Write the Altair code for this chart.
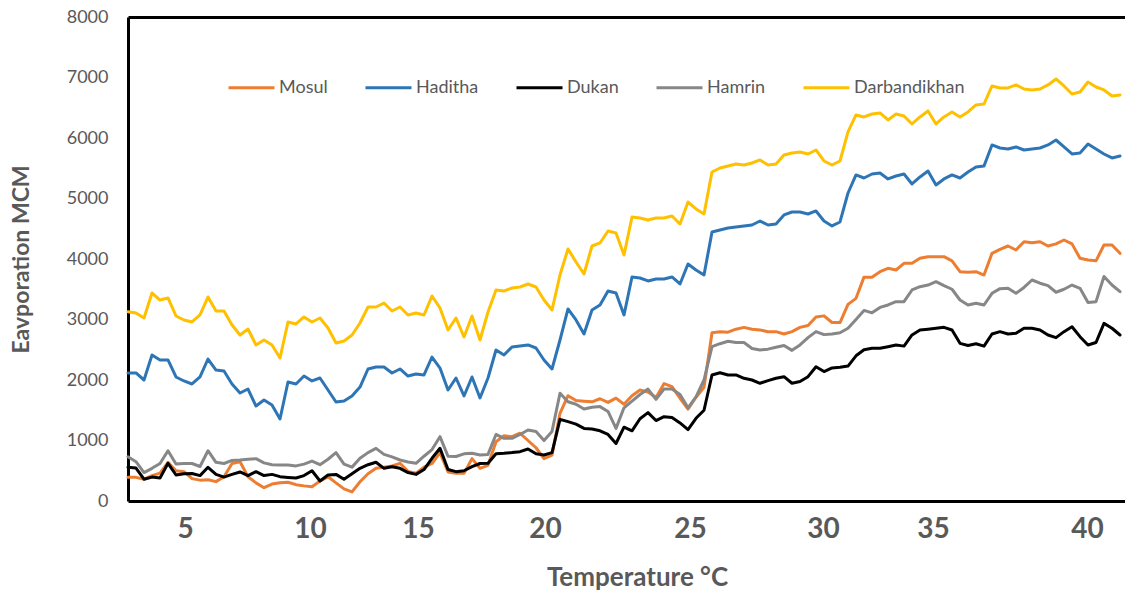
import altair as alt
import pandas as pd

series_names = ["Mosul", "Haditha", "Dukan", "Hamrin", "Darbandikhan"]
series_colors = ["#ED7D31", "#2E75B6", "#000000", "#878787", "#FFC000"]

# x tick labels (temperature) and the category positions where they sit
tick_labels = ["5", "10", "15", "20", "25", "30", "35", "40"]
tick_positions = [7.125, 22.75, 36.25, 52.125, 70.25, 86.875, 100.625, 119.875]

mosul = [391, 391, 360, 420, 460, 640, 500, 485, 370, 345,
         350, 320, 400, 620, 650, 400, 300, 220, 280, 300,
         310, 270, 250, 237, 330, 400, 300, 200, 150, 319,
         450, 540, 560, 580, 623, 490, 460, 560, 620, 800,
         480, 457, 457, 700, 540, 590, 980, 1080, 1063, 1120,
         1000, 880, 700, 760, 1450, 1740, 1660, 1650, 1640, 1690,
         1630, 1700, 1600, 1740, 1835, 1800, 1710, 1940, 1890, 1698,
         1520, 1715, 1880, 2780, 2799, 2790, 2840, 2870, 2840, 2827,
         2799, 2799, 2760, 2800, 2870, 2900, 3040, 3060, 2950, 2950,
         3250, 3350, 3700, 3700, 3790, 3846, 3818, 3929, 3929, 4012,
         4038, 4038, 4038, 3970, 3790, 3780, 3790, 3735, 4094, 4160,
         4215, 4149, 4286, 4270, 4286, 4215, 4250, 4314, 4250, 4012,
         3984, 3970, 4232, 4232, 4094]

haditha = [2116, 2116, 2000, 2413, 2331, 2331, 2050, 1984, 1934, 2050,
           2347, 2165, 2149, 1934, 1785, 1851, 1570, 1670, 1587, 1355,
           1967, 1934, 2066, 1984, 2033, 1835, 1636, 1653, 1736, 1884,
           2182, 2215, 2215, 2116, 2182, 2066, 2099, 2083, 2380, 2198,
           1835, 2033, 1736, 2050, 1703, 2033, 2496, 2413, 2546, 2562,
           2579, 2529, 2331, 2182, 2661, 3174, 2992, 2761, 3157, 3240,
           3471, 3438, 3075, 3703, 3686, 3637, 3670, 3670, 3703, 3587,
           3918, 3818, 3736, 4447, 4480, 4513, 4529, 4546, 4562, 4628,
           4562, 4579, 4728, 4777, 4777, 4744, 4794, 4628, 4546, 4612,
           5091, 5389, 5339, 5405, 5422, 5323, 5372, 5405, 5240, 5356,
           5455, 5224, 5323, 5389, 5339, 5438, 5521, 5538, 5885, 5835,
           5819, 5852, 5802, 5819, 5835, 5885, 5967, 5852, 5736, 5752,
           5901, 5819, 5736, 5670, 5703]

dukan = [557, 545, 360, 395, 380, 623, 430, 450, 455, 420,
         557, 440, 395, 440, 480, 420, 485, 420, 440, 402,
         390, 380, 420, 500, 330, 430, 440, 360, 450, 540,
         600, 640, 540, 567, 540, 470, 440, 520, 706, 871,
         520, 485, 500, 567, 620, 623, 780, 788, 800, 815,
         860, 780, 760, 800, 1350, 1311, 1270, 1200, 1190, 1160,
         1100, 950, 1220, 1160, 1360, 1460, 1330, 1394, 1380, 1290,
         1180, 1367, 1500, 2083, 2120, 2083, 2083, 2028, 2000, 1946,
         1990, 2028, 2055, 1946, 1975, 2055, 2220, 2140, 2200, 2210,
         2230, 2400, 2500, 2524, 2524, 2551, 2579, 2560, 2744, 2827,
         2840, 2855, 2870, 2827, 2606, 2570, 2600, 2560, 2760, 2799,
         2760, 2772, 2855, 2855, 2827, 2744, 2700, 2799, 2881, 2716,
         2579, 2620, 2936, 2855, 2744]

hamrin = [732, 650, 470, 540, 620, 831, 610, 620, 620, 570,
          831, 640, 620, 670, 678, 690, 700, 630, 600, 595,
          595, 580, 610, 660, 600, 690, 800, 610, 560, 706,
          800, 870, 770, 730, 678, 645, 623, 740, 850, 1063,
          740, 735, 780, 790, 760, 770, 1100, 1036, 1036, 1100,
          1174, 1150, 1000, 1150, 1780, 1640, 1600, 1520, 1550, 1560,
          1480, 1200, 1540, 1650, 1760, 1850, 1680, 1850, 1850, 1760,
          1540, 1720, 2000, 2551, 2600, 2640, 2620, 2620, 2520, 2496,
          2510, 2540, 2570, 2490, 2580, 2700, 2800, 2750, 2760, 2780,
          2855, 3000, 3150, 3110, 3200, 3240, 3295, 3295, 3488, 3542,
          3570, 3625, 3560, 3500, 3322, 3240, 3268, 3240, 3433, 3510,
          3516, 3433, 3530, 3653, 3600, 3560, 3450, 3500, 3570, 3516,
          3280, 3295, 3710, 3570, 3460]

darbandikhan = [3129, 3108, 3025, 3438, 3322, 3356, 3058, 2992, 2959, 3075,
                3372, 3141, 3141, 2909, 2744, 2843, 2579, 2661, 2579, 2364,
                2959, 2926, 3042, 2959, 3025, 2860, 2612, 2645, 2744, 2942,
                3207, 3207, 3273, 3141, 3207, 3075, 3108, 3075, 3389, 3190,
                2827, 3025, 2711, 3058, 2661, 3124, 3488, 3471, 3521, 3537,
                3587, 3537, 3322, 3157, 3736, 4166, 3951, 3752, 4215, 4265,
                4463, 4430, 4066, 4695, 4678, 4645, 4678, 4678, 4711, 4579,
                4942, 4827, 4744, 5438, 5504, 5538, 5571, 5554, 5587, 5637,
                5554, 5571, 5719, 5752, 5769, 5736, 5802, 5620, 5554, 5620,
                6100, 6381, 6348, 6397, 6414, 6298, 6397, 6364, 6232, 6348,
                6447, 6232, 6348, 6430, 6348, 6430, 6546, 6562, 6860, 6827,
                6827, 6877, 6810, 6794, 6810, 6877, 6976, 6860, 6728, 6761,
                6926, 6843, 6794, 6695, 6711]

all_series = [mosul, haditha, dukan, hamrin, darbandikhan]

rows = []
for name, vals in zip(series_names, all_series):
    for i, v in enumerate(vals):
        rows.append({"idx": i, "value": v, "series": name, "order": series_names.index(name)})
df = pd.DataFrame(rows)

x_scale = alt.Scale(domain=[0, 124.625], nice=False, zero=False)
y_scale = alt.Scale(domain=[0, 8000], nice=False)

label_expr = "[{}][indexof([{}], datum.value)]".format(
    ",".join("'%s'" % t for t in tick_labels),
    ",".join(str(p) for p in tick_positions),
)

lines = alt.Chart(df).mark_line(strokeWidth=3, strokeJoin="round", strokeCap="round").encode(
    x=alt.X("idx:Q", scale=x_scale,
            axis=alt.Axis(values=tick_positions, labelExpr=label_expr, grid=False, ticks=False,
                          domainColor="black", domainWidth=3, labelFont="Lato", labelFontSize=28,
                          labelFontWeight="bold", labelColor="#595959", labelPadding=14,
                          title="Temperature °C", titleFont="Lato", titleFontSize=26,
                          titleFontWeight="bold", titleColor="#595959",
                          titleX=509, titleY=84, titleBaseline="alphabetic", titleAlign="center")),
    y=alt.Y("value:Q", scale=y_scale,
            axis=alt.Axis(values=list(range(0, 8001, 1000)), format="d", grid=False, ticks=False,
                          domainColor="black", domainWidth=3, labelFont="Lato", labelFontSize=18,
                          labelColor="#595959", labelPadding=20,
                          title="Eavporation MCM", titleFont="Lato", titleFontSize=23,
                          titleFontWeight="bold", titleColor="#595959",
                          titleX=-100, titleY=242, titleBaseline="alphabetic", titleAlign="center",
                          titleAngle=270)),
    color=alt.Color("series:N", scale=alt.Scale(domain=series_names, range=series_colors),
                    legend=alt.Legend(orient="none", legendX=99, legendY=46, direction="horizontal",
                                      title=None, symbolType="stroke", symbolSize=2116,
                                      symbolStrokeWidth=3, labelFont="Lato", labelFontSize=18,
                                      labelColor="#595959", columnPadding=31, labelOffset=3,
                                      padding=0)),
    order=alt.Order("order:Q"),
    detail="series:N",
)

top_frame = alt.Chart(df).mark_point(opacity=0).encode(
    x=alt.X("idx:Q", scale=x_scale,
            axis=alt.Axis(orient="top", labels=False, ticks=False, grid=False, title=None,
                          domainColor="black", domainWidth=3)),
)

chart = alt.layer(lines, top_frame).resolve_axis(x="independent").properties(
    width=997, height=484,
    autosize=alt.AutoSizeParams(type="none"),
    padding={"left": 128, "top": 17, "right": 0, "bottom": 90},
    background="white",
).configure_view(stroke=None)

chart.save("out.html", embed_options={"renderer": "svg", "actions": False})
